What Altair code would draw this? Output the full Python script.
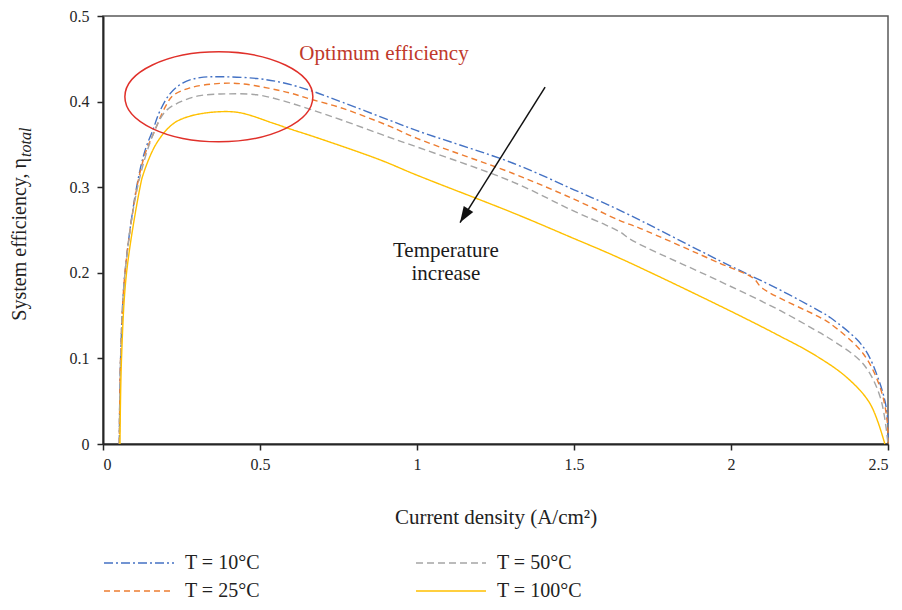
import altair as alt
import pandas as pd

# ---------------- data ----------------
names = ["T = 10°C", "T = 25°C", "T = 50°C", "T = 100°C"]

x10 = [0.052, 0.056, 0.07, 0.107, 0.134, 0.16, 0.18, 0.213, 0.255, 0.309,
       0.38, 0.49, 0.573, 0.66, 0.764, 0.914, 1.0, 1.306, 1.5, 1.646,
       1.965, 2.156, 2.283, 2.315, 2.42, 2.475, 2.497, 2.5]
y10 = [0.0, 0.10, 0.20, 0.30, 0.343, 0.368, 0.388, 0.409, 0.422, 0.428,
       0.429, 0.427, 0.422, 0.413, 0.399, 0.378, 0.366, 0.328, 0.297, 0.273,
       0.214, 0.180, 0.155, 0.148, 0.114, 0.070, 0.036, 0.0]

x25 = [0.052, 0.056, 0.07, 0.108, 0.135, 0.16, 0.2, 0.223, 0.277, 0.363,
       0.436, 0.522, 0.596, 0.66, 0.764, 0.914, 1.0, 1.306, 1.5, 1.646,
       1.71, 1.965, 2.07, 2.10, 2.283, 2.315, 2.42, 2.475, 2.497, 2.5]
y25 = [0.0, 0.10, 0.20, 0.30, 0.34, 0.362, 0.395, 0.407, 0.416, 0.421,
       0.421, 0.416, 0.410, 0.403, 0.392, 0.371, 0.357, 0.316, 0.286, 0.261,
       0.252, 0.211, 0.194, 0.182, 0.148, 0.141, 0.106, 0.066, 0.028, 0.0]

x50 = [0.052, 0.056, 0.07, 0.11, 0.16, 0.2, 0.255, 0.309, 0.394, 0.49,
       0.573, 0.66, 0.764, 0.914, 1.0, 1.306, 1.5, 1.6, 1.65, 1.68,
       1.965, 2.156, 2.283, 2.315, 2.42, 2.475, 2.5]
y50 = [0.0, 0.10, 0.20, 0.30, 0.362, 0.389, 0.401, 0.407, 0.409, 0.408,
       0.401, 0.391, 0.378, 0.358, 0.347, 0.306, 0.272, 0.256, 0.247, 0.239,
       0.190, 0.156, 0.130, 0.123, 0.094, 0.055, 0.0]

x100 = [0.054, 0.059, 0.075, 0.118, 0.128, 0.17, 0.223, 0.277, 0.363, 0.436,
        0.54, 0.596, 0.68, 0.882, 1.0, 1.306, 1.5, 1.646, 2.0, 2.156,
        2.262, 2.368, 2.443, 2.49]
y100 = [0.0, 0.10, 0.20, 0.30, 0.315, 0.351, 0.374, 0.383, 0.388, 0.387,
        0.375, 0.368, 0.358, 0.332, 0.314, 0.270, 0.240, 0.217, 0.155, 0.126,
        0.105, 0.078, 0.047, 0.0]

x_ticks = [0, 0.5, 1, 1.5, 2, 2.5]
y_ticks = [0, 0.1, 0.2, 0.3, 0.4, 0.5]

colors = ["#4472C4", "#ED7D31", "#A5A5A5", "#FFC000"]
dashes = [[9, 3, 2, 3], [6, 4], [7, 4], [1, 0]]

# annotation positions (data units)
ellipse_center = {"x": [0.369], "y": [0.4056]}
arrow = {"x": [1.408], "y": [0.417], "x2": [1.137], "y2": [0.2587]}
red_note = {"x": [0.895], "y": [0.4557], "label": ["Optimum efficiency"]}
black_note = {"x": [1.092, 1.092], "y": [0.226, 0.199], "label": ["Temperature", "increase"]}

# ---------------- build table ----------------
rows = []
for name, xs_, ys_ in zip(names, [x10, x25, x50, x100], [y10, y25, y50, y100]):
    for a, b in zip(xs_, ys_):
        rows.append({"series": name, "x": a, "y": b})
df = pd.DataFrame(rows)

FONT = "Liberation Serif"
xs = alt.Scale(domain=[0, 2.5], nice=False, zero=False)
ys = alt.Scale(domain=[0, 0.5], nice=False)
xaxis = alt.Axis(values=x_ticks, format="~g", titlePadding=34, labelPadding=6)
yaxis = alt.Axis(values=y_ticks, format="~g", title=None, labelPadding=8)
X = alt.X("x:Q", scale=xs, axis=xaxis, title="Current density (A/cm²)")
Y = alt.Y("y:Q", scale=ys, axis=yaxis, title=None)

leg = alt.Legend(
    title=None, orient="none", legendX=-9, legendY=537, columns=2,
    columnPadding=146, rowPadding=8,
    symbolType="M0,0H14", symbolSize=100, symbolStrokeWidth=1.5,
    labelFont=FONT, labelFontSize=20, labelFontWeight="normal",
    labelColor="#222222", labelOffset=71,
)

lines = alt.Chart(df).mark_line(strokeWidth=1.4, interpolate="catmull-rom").encode(
    x=X, y=Y,
    color=alt.Color("series:N", scale=alt.Scale(domain=names, range=colors), legend=leg),
    strokeDash=alt.StrokeDash("series:N", scale=alt.Scale(domain=names, range=dashes), legend=leg),
    detail="series:N",
)

ellipse_path = ("M-1,0C-1,-0.2645 -0.5523,-0.479 0,-0.479C0.5523,-0.479 1,-0.2645 1,0"
                "C1,0.2645 0.5523,0.479 0,0.479C-0.5523,0.479 -1,0.2645 -1,0Z")
ellipse = alt.Chart(pd.DataFrame(ellipse_center)).mark_point(
    shape=ellipse_path, size=35344, filled=False, stroke="#E0302A", strokeWidth=1.5, opacity=1
).encode(x=X, y=Y)

arrow_df = pd.DataFrame(arrow)
arrow_line = alt.Chart(arrow_df).mark_rule(color="#111111", strokeWidth=1.5).encode(
    x=X, y=Y, x2="x2:Q", y2="y2:Q")
arrow_head = alt.Chart(pd.DataFrame({"x": arrow["x2"], "y": arrow["y2"]})).mark_point(
    shape="M0,0L-0.35,1L0.35,1Z", size=1024, filled=True, color="#111111", opacity=1, angle=212
).encode(x=X, y=Y)

red_text = alt.Chart(pd.DataFrame(red_note)).mark_text(
    font=FONT, fontSize=21, baseline="middle", align="center", color="#C0392B"
).encode(x=X, y=Y, text="label:N")
black_text = alt.Chart(pd.DataFrame(black_note)).mark_text(
    font=FONT, fontSize=21, baseline="middle", align="center", color="#1A1A1A"
).encode(x=X, y=Y, text="label:N")

ytitle_main = alt.Chart(pd.DataFrame({"t": ["System efficiency, η"]})).mark_text(
    font=FONT, fontSize=20, angle=270, align="right", baseline="middle", color="#222222"
).encode(x=alt.value(-83), y=alt.value(142), text="t:N")
ytitle_sub = alt.Chart(pd.DataFrame({"t": ["total"]})).mark_text(
    font=FONT, fontSize=16, fontStyle="italic", angle=270, align="left", baseline="middle", color="#222222"
).encode(x=alt.value(-77), y=alt.value(141), text="t:N")

chart = alt.layer(lines, ellipse, arrow_line, arrow_head, red_text, black_text,
                  ytitle_main, ytitle_sub).properties(
    width=785, height=428,
    padding={"left": 95, "top": 8, "right": 5, "bottom": 157},
    autosize=alt.AutoSizeParams(type="none"),
).configure_view(stroke="#595959", strokeWidth=1.5).configure_axis(
    domainColor="#262626", domainWidth=2, tickColor="#262626", tickWidth=1.5, tickSize=6,
    labelFont=FONT, labelFontSize=16, labelColor="#262626",
    titleFont=FONT, titleFontSize=21, titleFontWeight="normal", titleColor="#222222", grid=False,
)

chart.save("out.html", embed_options={"renderer": "svg", "actions": False})
